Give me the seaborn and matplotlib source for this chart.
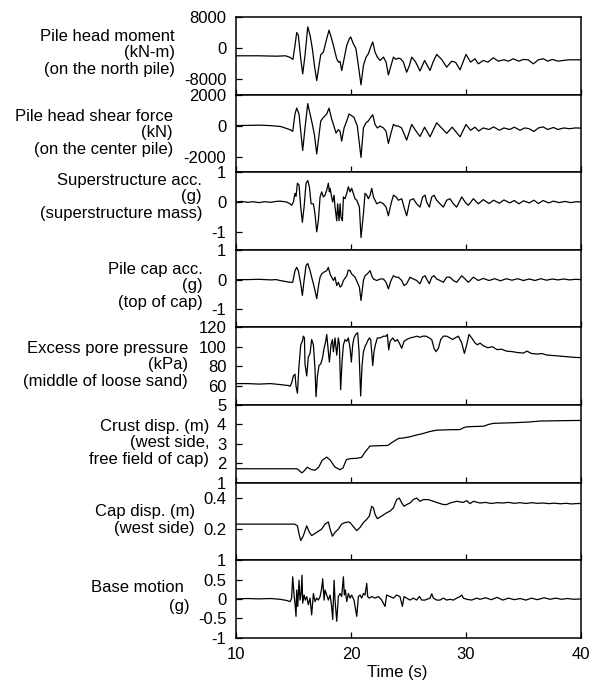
import matplotlib
matplotlib.use("Agg")
import matplotlib.pyplot as plt
import seaborn as sns
import pandas as pd
from matplotlib.ticker import FuncFormatter

# ---------------- data (time s, value) ----------------
pile_moment = [(10.0,-2000),(12.0,-2000),(13.5,-2100),(14.3,-2000),(14.7,-2400),(14.95,-2940),(15.13,700),(15.28,4000),(15.42,3300),(15.63,-2770),(15.8,-6670),(16.0,-1900),(16.24,5470),(16.44,3300),(16.64,-170),(16.82,-4500),(17.02,-8400),(17.22,-4500),(17.37,-1730),(17.6,-1040),(17.89,2430),(18.09,4600),(18.27,2860),(18.47,700),(18.61,-1040),(18.76,-2770),(18.9,-3640),(19.05,-3460),(19.19,-5800),(19.4,-2770),(19.63,700),(19.86,2430),(19.97,2860),(20.2,1130),(20.43,-170),(20.64,-4500),(20.87,-9500),(21.08,-4500),(21.31,-2340),(21.51,-1470),(21.71,270),(21.89,1560),(22.09,-1040),(22.29,-2340),(22.53,-3200),(22.82,-2340),(23.05,-3640),(23.25,-6930),(23.48,-4500),(23.69,-2340),(23.92,-2940),(24.12,-2600),(24.32,-2770),(24.56,-3640),(24.84,-6240),(25.08,-4500),(25.28,-2340),(25.6,-3500),(26.0,-5900),(26.4,-3200),(26.87,-5800),(27.15,-3500),(27.45,-1640),(27.9,-3000),(28.32,-4930),(28.75,-3400),(29.1,-3700),(29.48,-5620),(30.0,-1640),(30.4,-3640),(30.78,-2770),(31.07,-4070),(31.51,-3200),(31.9,-3640),(32.38,-2510),(32.8,-3380),(33.3,-3030),(33.7,-3380),(34.1,-2770),(34.6,-3380),(35.0,-2940),(35.4,-3030),(35.86,-4070),(36.3,-3030),(36.73,-2770),(37.1,-3380),(37.5,-2940),(38.0,-3380),(38.46,-3200),(39.0,-3030),(39.5,-3030),(40.0,-3030)]

pile_shear = [(10.0,0),(12.0,30),(13.0,0),(13.9,-60),(14.26,-150),(14.7,-260),(14.93,-370),(15.13,750),(15.28,1130),(15.48,750),(15.66,-590),(15.8,-1600),(16.0,-150),(16.24,1420),(16.44,750),(16.64,80),(16.82,-590),(17.02,-1830),(17.22,-590),(17.37,300),(17.6,530),(17.89,750),(18.09,1130),(18.32,420),(18.47,80),(18.7,-480),(18.9,-260),(19.05,-370),(19.19,-1000),(19.4,-150),(19.63,300),(19.83,750),(20.06,640),(20.26,530),(20.55,-30),(20.87,-2050),(21.08,-150),(21.31,190),(21.51,300),(21.71,530),(21.89,700),(22.09,80),(22.29,-150),(22.53,-30),(22.82,-150),(23.05,-370),(23.25,-1150),(23.48,-480),(23.69,80),(23.92,-30),(24.12,-30),(24.4,-150),(24.84,-930),(25.28,80),(25.57,-260),(26.0,-700),(26.4,-100),(26.87,-720),(27.45,180),(28.32,-500),(28.8,-100),(29.48,-720),(30.0,70),(30.4,-300),(30.78,-100),(31.1,-350),(31.5,-150),(32.0,-250),(32.4,-80),(32.9,-300),(33.3,-150),(33.8,-250),(34.2,-100),(34.7,-300),(35.1,-150),(35.5,-200),(35.9,-380),(36.3,-150),(36.7,-80),(37.1,-250),(37.6,-120),(38.0,-250),(38.5,-150),(39.0,-200),(39.5,-150),(40.0,-160)]

super_acc = [(10.0,0.0),(10.5,0.02),(11.0,-0.01),(11.5,0.01),(12.0,-0.02),(12.5,0.01),(13.0,-0.01),(13.5,0.02),(13.83,0.03),(14.41,0.0),(14.7,-0.06),(14.84,-0.11),(14.99,0.0),(15.13,0.29),(15.22,0.19),(15.34,0.63),(15.48,0.57),(15.63,-0.17),(15.77,-0.68),(15.92,-0.17),(16.09,0.63),(16.24,0.72),(16.38,0.51),(16.53,-0.06),(16.73,-0.06),(16.87,-0.4),(17.02,-1.0),(17.16,-0.63),(17.31,0.17),(17.45,0.34),(17.6,0.17),(17.74,0.23),(17.89,0.4),(18.03,0.63),(18.12,0.34),(18.18,0.46),(18.32,0.17),(18.41,0.0),(18.53,0.23),(18.61,-0.17),(18.76,-0.63),(18.84,-0.06),(18.96,-0.63),(19.05,-0.06),(19.13,-0.51),(19.25,-0.63),(19.34,0.17),(19.48,0.11),(19.63,0.29),(19.77,0.51),(19.92,0.34),(20.06,0.46),(20.2,0.29),(20.35,0.11),(20.5,0.06),(20.73,-0.17),(20.87,-1.19),(21.08,-0.4),(21.22,0.29),(21.37,0.23),(21.51,0.11),(21.66,0.23),(21.8,0.46),(21.95,0.17),(22.09,0.06),(22.24,-0.06),(22.53,0.0),(22.82,-0.06),(23.05,-0.17),(23.25,-0.46),(23.48,-0.06),(23.69,0.23),(23.92,0.17),(24.12,0.06),(24.41,0.11),(24.61,-0.17),(24.84,-0.46),(25.13,0.06),(25.42,0.11),(25.71,-0.06),(26.0,-0.17),(26.23,0.17),(26.44,0.23),(26.58,0.0),(26.81,-0.17),(27.02,0.17),(27.22,0.23),(27.45,0.06),(27.74,-0.06),(28.03,-0.17),(28.32,0.06),(28.61,0.11),(28.9,-0.06),(29.19,-0.17),(29.63,0.17),(29.92,0.0),(30.2,-0.11),(30.64,0.11),(31.07,-0.06),(31.5,0.08),(32.0,-0.05),(32.4,0.06),(32.9,-0.04),(33.3,0.07),(33.8,-0.03),(34.2,0.05),(34.6,-0.06),(35.0,0.04),(35.5,-0.03),(35.9,0.06),(36.3,-0.05),(36.7,0.05),(37.2,-0.03),(37.6,0.03),(38.1,-0.02),(38.6,0.02),(39.1,-0.02),(39.6,0.01),(40.0,0.0)]

cap_acc = [(10.0,0.0),(11.0,0.0),(12.0,0.01),(13.0,-0.01),(13.5,0.0),(13.83,-0.03),(14.7,-0.09),(14.93,-0.09),(15.13,0.3),(15.28,0.41),(15.42,0.3),(15.63,-0.14),(15.77,-0.53),(15.92,-0.03),(16.09,0.47),(16.24,0.54),(16.44,0.3),(16.58,0.08),(16.73,-0.14),(16.87,-0.37),(17.02,-0.64),(17.16,-0.25),(17.31,0.08),(17.45,0.19),(17.6,0.24),(17.89,0.3),(18.03,0.41),(18.18,0.19),(18.32,0.08),(18.47,-0.03),(18.61,0.08),(18.76,-0.2),(18.9,-0.09),(19.05,-0.25),(19.19,-0.2),(19.34,-0.03),(19.63,0.13),(19.77,0.32),(19.92,0.3),(20.06,0.19),(20.35,0.08),(20.55,-0.09),(20.73,-0.25),(20.87,-0.7),(21.08,-0.03),(21.22,0.13),(21.42,0.19),(21.66,0.3),(21.8,0.13),(21.95,0.02),(22.24,-0.03),(22.53,0.02),(22.82,0.02),(23.05,-0.09),(23.25,-0.31),(23.48,-0.03),(23.69,0.13),(23.92,0.08),(24.12,0.08),(24.41,-0.03),(24.61,-0.2),(24.84,-0.14),(25.13,0.08),(25.42,0.02),(25.71,-0.03),(26.0,-0.14),(26.23,0.08),(26.44,0.13),(26.58,0.02),(26.81,-0.14),(27.02,0.08),(27.22,0.13),(27.45,0.02),(27.74,-0.03),(28.03,-0.09),(28.32,0.08),(28.61,0.08),(28.9,-0.03),(29.19,-0.09),(29.63,0.13),(29.92,0.02),(30.2,-0.09),(30.64,0.08),(31.07,-0.03),(31.5,0.04),(32.0,-0.03),(32.5,0.03),(33.0,-0.04),(33.5,0.03),(34.0,-0.02),(34.5,0.03),(35.0,-0.03),(35.5,0.02),(36.0,-0.03),(36.5,0.03),(37.0,-0.02),(37.5,0.02),(38.0,-0.01),(38.5,0.02),(39.0,-0.01),(39.5,0.01),(40.0,0.0)]

pore_pressure = [(10.0,62),(11.0,62),(12.0,61.5),(13.0,62),(13.83,61.0),(14.55,60),(14.7,59.2),(14.84,62.8),(14.99,69.9),(15.13,71.7),(15.22,59.2),(15.34,52.1),(15.48,80.6),(15.63,102.0),(15.77,105.6),(15.86,110.9),(15.95,109.1),(16.0,82.4),(16.15,69.9),(16.29,89.5),(16.44,93.1),(16.58,107.4),(16.73,102.0),(16.87,77.1),(16.96,48.5),(17.08,69.9),(17.22,80.6),(17.37,82.4),(17.51,87.7),(17.66,98.4),(17.8,105.6),(17.89,112.7),(18.03,94.9),(18.12,84.2),(18.26,102.0),(18.38,107.4),(18.47,94.9),(18.61,109.1),(18.76,91.3),(18.9,109.1),(18.99,102.0),(19.1,55.7),(19.22,84.2),(19.34,102.0),(19.48,107.4),(19.63,105.6),(19.77,109.1),(19.92,98.4),(20.03,84.2),(20.15,102.0),(20.26,109.1),(20.41,112.7),(20.58,114.5),(20.7,94.9),(20.84,49.2),(20.96,80.6),(21.08,94.9),(21.22,100.2),(21.37,103.8),(21.51,107.4),(21.6,109.1),(21.71,107.4),(21.8,94.9),(21.89,80.6),(22.0,94.9),(22.12,102.0),(22.29,109.1),(22.53,109.1),(22.82,110.9),(23.05,110.9),(23.16,112.7),(23.28,96.7),(23.4,105.6),(23.63,109.1),(23.83,105.6),(24.03,107.4),(24.2,103.8),(24.41,98.4),(24.61,105.6),(24.84,107.4),(25.13,109.1),(25.42,109.8),(25.71,110.9),(26.0,109.8),(26.24,110.9),(26.53,110.9),(26.81,109.1),(27.02,107.4),(27.22,98.4),(27.39,94.9),(27.6,98.4),(27.8,107.4),(28.03,110.9),(28.32,110.9),(28.61,109.1),(28.84,107.4),(29.05,109.1),(29.34,110.9),(29.63,103.8),(29.86,93.1),(30.06,102.0),(30.26,112.7),(30.5,109.1),(30.79,103.8),(31.0,102.0),(31.22,103.8),(31.5,101),(31.9,99),(32.3,100),(32.7,97),(33.1,97.5),(33.5,95.5),(34.0,95),(34.5,94),(35.0,93.5),(35.3,95.5),(35.7,93),(36.2,92.5),(36.6,93),(37.0,91.5),(37.5,91),(38.0,90.5),(38.5,90),(39.0,89.5),(39.5,89),(40.0,88.8)]

crust_disp = [(10.0,1.71),(15.3,1.71),(15.5,1.62),(15.71,1.5),(15.85,1.55),(16.2,1.79),(16.5,1.68),(16.87,1.63),(17.2,1.8),(17.5,2.15),(17.88,2.31),(18.2,2.15),(18.6,1.8),(19.04,1.66),(19.3,1.75),(19.6,2.18),(19.91,2.23),(20.5,2.25),(20.93,2.3),(21.2,2.55),(21.65,2.88),(22.5,2.9),(23.2,2.91),(23.6,3.08),(24.12,3.27),(24.6,3.3),(25.13,3.36),(25.7,3.45),(26.29,3.53),(26.8,3.62),(27.45,3.7),(28.5,3.72),(29.48,3.73),(29.8,3.83),(30.06,3.87),(30.8,3.89),(31.51,3.9),(32.0,4.0),(32.38,4.05),(33.4,4.07),(34.41,4.09),(35.5,4.12),(36.43,4.17),(37.5,4.18),(38.46,4.19),(39.91,4.2),(40.0,4.2)]

cap_disp = [(10.0,0.232),(13.0,0.232),(15.1,0.232),(15.34,0.221),(15.48,0.169),(15.63,0.126),(15.86,0.158),(16.15,0.221),(16.38,0.179),(16.58,0.158),(17.02,0.179),(17.45,0.2),(17.74,0.232),(18.03,0.246),(18.18,0.2),(18.38,0.154),(18.61,0.179),(18.9,0.2),(19.19,0.232),(19.48,0.242),(19.77,0.246),(19.92,0.242),(20.15,0.221),(20.5,0.19),(20.79,0.211),(21.08,0.242),(21.37,0.263),(21.6,0.284),(21.8,0.347),(21.95,0.337),(22.09,0.295),(22.29,0.267),(22.67,0.284),(23.1,0.305),(23.4,0.316),(23.69,0.337),(23.97,0.39),(24.2,0.4),(24.41,0.368),(24.61,0.347),(24.84,0.358),(25.13,0.368),(25.42,0.39),(25.71,0.4),(26.0,0.379),(26.29,0.39),(26.73,0.39),(27.16,0.379),(27.6,0.368),(28.03,0.358),(28.32,0.358),(28.61,0.368),(29.19,0.379),(29.77,0.372),(30.06,0.383),(30.35,0.364),(30.64,0.379),(31.22,0.368),(31.7,0.372),(32.2,0.365),(32.7,0.37),(33.2,0.368),(33.7,0.372),(34.2,0.366),(34.7,0.37),(35.2,0.365),(35.7,0.37),(36.2,0.366),(36.7,0.368),(37.2,0.364),(37.7,0.367),(38.2,0.363),(38.7,0.366),(39.2,0.362),(39.7,0.365),(40.0,0.364)]

base_motion = [(10.0,0.0),(11.0,0.01),(12.0,0.0),(13.0,0.01),(13.83,-0.01),(14.41,-0.04),(14.7,-0.07),(14.84,0.02),(14.93,0.57),(15.05,0.1),(15.13,-0.11),(15.22,-0.45),(15.28,0.23),(15.37,-0.195),(15.48,0.48),(15.57,-0.03),(15.66,0.14),(15.74,0.61),(15.8,-0.11),(15.92,0.1),(16.03,-0.03),(16.15,0.06),(16.29,-0.15),(16.44,0.02),(16.58,-0.41),(16.73,0.14),(16.87,-0.07),(17.02,0.02),(17.16,-0.03),(17.31,0.06),(17.45,0.27),(17.54,0.52),(17.66,-0.03),(17.74,0.23),(17.89,0.1),(18.03,-0.03),(18.18,0.1),(18.32,-0.195),(18.41,-0.53),(18.53,0.48),(18.61,-0.03),(18.76,-0.575),(18.9,0.06),(19.05,0.14),(19.19,0.06),(19.34,0.57),(19.42,0.1),(19.51,0.23),(19.63,-0.07),(19.77,0.14),(19.92,0.02),(20.06,0.1),(20.26,-0.03),(20.5,-0.45),(20.64,0.06),(20.79,0.1),(20.93,0.02),(21.08,0.14),(21.22,0.1),(21.37,0.4),(21.45,0.06),(21.6,0.02),(21.8,0.06),(22.09,0.02),(22.38,0.06),(22.67,-0.03),(22.96,-0.195),(23.1,0.1),(23.4,0.06),(23.69,0.02),(23.97,0.1),(24.26,0.06),(24.47,-0.195),(24.61,0.06),(24.84,0.02),(25.13,-0.03),(25.42,0.02),(25.71,-0.03),(25.95,0.06),(26.15,-0.03),(26.44,-0.03),(26.87,0.02),(27.02,0.13),(27.16,0.02),(27.45,-0.03),(27.74,-0.03),(28.03,0.02),(28.32,-0.03),(28.61,-0.01),(28.9,-0.03),(29.19,0.02),(29.48,0.06),(29.63,0.1),(29.77,0.02),(30.06,-0.01),(30.5,-0.03),(30.93,0.02),(31.22,-0.01),(31.7,0.03),(32.2,-0.02),(32.7,0.04),(33.2,-0.03),(33.7,0.02),(34.2,-0.02),(34.7,0.01),(35.2,-0.03),(35.7,0.02),(36.2,-0.02),(36.8,0.03),(37.3,-0.01),(37.8,0.02),(38.3,-0.01),(38.8,0.01),(39.4,-0.01),(40.0,0.0)]

series = [pile_moment, pile_shear, super_acc, cap_acc, pore_pressure,
          crust_disp, cap_disp, base_motion]

panel_labels = ["Pile head moment\n(kN-m)\n(on the north pile)",
                "Pile head shear force\n(kN)\n(on the center pile)",
                "Superstructure acc.\n(g)\n(superstructure mass)",
                "Pile cap acc.\n(g)\n(top of cap)",
                "Excess pore pressure\n(kPa)\n(middle of loose sand)",
                "Crust disp. (m)\n(west side,\nfree field of cap)",
                "Cap disp. (m)\n(west side)",
                "Base motion\n(g)"]

y_limits = [(-12000, 8000), (-3000, 2000), (-1.6, 1), (-1.6, 1), (40, 120),
            (1, 5), (0, 0.5), (-1, 1)]
y_ticks = [[-8000, 0, 8000], [-2000, 0, 2000], [-1, 0, 1], [-1, 0, 1],
           [60, 80, 100, 120], [1, 2, 3, 4, 5], [0.2, 0.4],
           [-1, -0.5, 0, 0.5, 1]]
x_ticks = [10, 20, 30, 40]
x_label = "Time (s)"

# ---------------- layout (pixels of a 597x681 canvas) ----------------
W, H = 597, 681
label_right_px = [175, 173, 202, 203, 188, 209, 195, 184]
label_center_px = [53, 133, 197, 286, 365, 443, 520, 588]

sns.set_style("ticks")
plt.rcParams["font.family"] = ["Liberation Sans", "DejaVu Sans"]
plt.rcParams["axes.unicode_minus"] = False
plt.rcParams["axes.linewidth"] = 1.1
plt.rcParams["text.color"] = "black"
plt.rcParams["axes.labelcolor"] = "black"
plt.rcParams["xtick.color"] = "black"
plt.rcParams["ytick.color"] = "black"
plt.rcParams["axes.edgecolor"] = "black"

fig = plt.figure(figsize=(W / 100, H / 100), dpi=100)
axes = fig.subplots(8, 1, sharex=True)
fig.subplots_adjust(left=236 / W, right=581 / W, top=1 - 17 / H,
                    bottom=1 - 637.7 / H, hspace=0)

fmt = FuncFormatter(lambda v, p: f"{v:g}")
for i, ax in enumerate(axes):
    df = pd.DataFrame(series[i], columns=["t", "v"])
    sns.lineplot(data=df, x="t", y="v", ax=ax, color="black", linewidth=0.9,
                 estimator=None, sort=False)
    ax.set_xlim(10, 40)
    ax.set_ylim(*y_limits[i])
    ax.set_yticks(y_ticks[i])
    ax.yaxis.set_major_formatter(fmt)
    ax.set_xticks(x_ticks)
    ax.set_xlabel("")
    ax.set_ylabel("")
    for s in ax.spines.values():
        s.set_visible(True)
        s.set_color("black")
    ax.tick_params(direction="in", length=4, width=0.9, labelsize=12, pad=7,
                   colors="black", labelcolor="black")
    if i < 7:
        ax.tick_params(labelbottom=False)
    if i == 7:
        fig.text(label_right_px[i] / W, 1 - label_center_px[i] / H, "Base motion",
                 ha="right", va="center", fontsize=12, color="black")
        fig.text(190 / W, 1 - 606.7 / H, "(g)", ha="right", va="center",
                 fontsize=12, color="black")
    else:
        fig.text(label_right_px[i] / W, 1 - label_center_px[i] / H, panel_labels[i],
                 ha="right", va="center", multialignment="right", fontsize=12,
                 linespacing=1.12, color="black")

axes[-1].set_xlabel(x_label, fontsize=12, va="center", color="black")
axes[-1].xaxis.set_label_coords(0.466, -0.45)

fig.savefig("out.png", dpi=100)
